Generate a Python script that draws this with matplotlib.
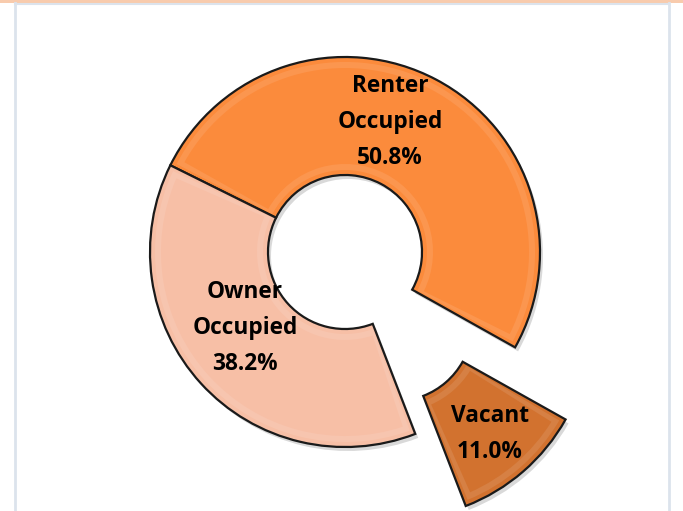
import numpy as np
import matplotlib.pyplot as plt
from matplotlib.patches import Wedge, Rectangle
from matplotlib.lines import Line2D

# data, drawn clockwise from the start angle
labels = ["Renter\nOccupied", "Vacant", "Owner\nOccupied"]
shares = [50.8, 11.0, 38.2]
colors = ["#FB8B3C", "#D2722F", "#F7BFA6"]
explode = [0, 88, 0]        # px offset
explode_dir = [0, -55, 0]   # deg
label_pos = [(390, 389), (490, 77), (245, 183)]  # px, y up

START = 153.6
CX, CY = 345, 259
R_OUT, R_IN = 195, 77

fig = plt.figure(figsize=(6.83, 5.11), dpi=100)
ax = fig.add_axes([0, 0, 1, 1])
ax.set_xlim(0, 683)
ax.set_ylim(0, 511)
ax.set_aspect("equal")
ax.axis("off")

# frame like the source
fig.add_artist(Rectangle((0, 1 - 3 / 511), 1, 3 / 511, transform=fig.transFigure,
                         color="#F8CBAD", lw=0))
for x in (15 / 683, 668.5 / 683):
    fig.add_artist(Line2D([x, x], [0, 1 - 3 / 511], transform=fig.transFigure,
                          color="#DCE3EC", lw=2))
fig.add_artist(Line2D([15 / 683, 668.5 / 683], [1 - 4 / 511] * 2,
                      transform=fig.transFigure, color="#DCE3EC", lw=1.5))

theta = START
for lab, val, col, ex, ed, (lx, ly) in zip(labels, shares, colors, explode,
                                           explode_dir, label_pos):
    span = val / sum(shares) * 360
    t1, t2 = theta - span, theta
    d = np.deg2rad(ed)
    cx = CX + ex * np.cos(d)
    cy = CY + ex * np.sin(d)
    # soft shadow
    ax.add_patch(Wedge((cx + 3, cy - 4), R_OUT, t1, t2, width=R_OUT - R_IN,
                       fc="black", alpha=0.15, lw=0))
    ax.add_patch(Wedge((cx, cy), R_OUT, t1, t2, width=R_OUT - R_IN,
                       fc=col, ec="#1a1a1a", lw=1.6))
    # bevel hint: lighter inner band
    ax.add_patch(Wedge((cx, cy), R_OUT - 5, t1 + 1.2, t2 - 1.2,
                       width=R_OUT - R_IN - 10, fc="white", alpha=0.10, lw=0))
    ax.add_patch(Wedge((cx, cy), R_OUT - 11, t1 + 2.8, t2 - 2.8,
                       width=R_OUT - R_IN - 22, fc=col, lw=0))
    ax.text(lx, ly, f"{lab}\n{val:.1f}%", ha="center", va="center",
            fontsize=16.3, fontweight="bold", family="Open Sans",
            linespacing=1.68, color="black")
    theta = t1

fig.savefig("out.png", dpi=100)
